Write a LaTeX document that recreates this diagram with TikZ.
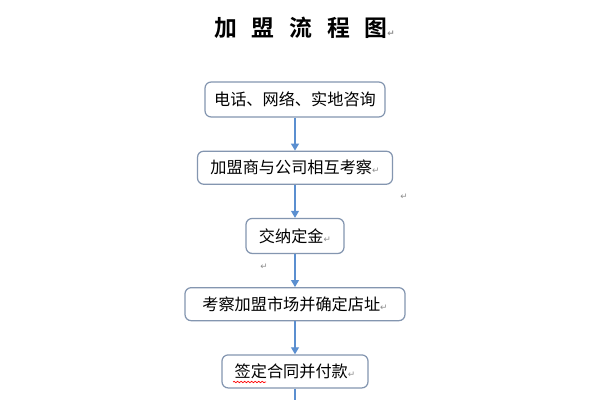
\documentclass[tikz,border=0pt]{standalone}
\usepackage{fontspec}
\newfontfamily\cjk[BoldFont={Noto Sans CJK SC Bold}]{Noto Sans CJK SC}
\newfontfamily\markfont{DejaVu Sans}
\usetikzlibrary{arrows.meta, positioning, decorations.pathmorphing}
\definecolor{boxline}{HTML}{8496B0}
\definecolor{arrowblue}{HTML}{5B8FD0}
\newcommand{\retmark}{{\markfont\fontsize{5}{5}\selectfont\textcolor{black!45}{↵}}}

\begin{document}
\begin{tikzpicture}[node distance=0.66cm,
    block/.style={rectangle, draw=boxline, line width=0.7pt, rounded corners=3.5pt, minimum height=0.66cm, inner xsep=0pt, text centered, font=\cjk\fontsize{9.2}{10}\selectfont},
    arrow/.style={draw=arrowblue, line width=0.8pt, -{Triangle[width=4.5pt,length=4pt]}}]
    \useasboundingbox[fill=white] (0,0) rectangle (12,-8);
    \node [anchor=west, font=\cjk\bfseries\fontsize{13}{14}\selectfont] (title) at (4.16,-0.56) {加\hspace{8.4pt}盟\hspace{8.4pt}流\hspace{8.4pt}程\hspace{8.4pt}图\retmark};
    \node [block, minimum width=3.6cm, minimum height=0.7cm] (consult) at (5.9,-1.99) {电话、网络、实地咨询};
    \node [block, below=of consult, minimum width=3.9cm] (inspect) {加盟商与公司相互考察\retmark};
    \node [block, below=of inspect, minimum width=1.96cm, minimum height=0.7cm] (deposit) {交纳定金\retmark};
    \node [block, below=of deposit, minimum width=4.4cm] (site) {考察加盟市场并确定店址\retmark};
    \node [block, below=of site, minimum width=2.92cm] (sign) {签定合同并付款\retmark};
    % stray paragraph marks
    \node (markA) at (8.08,-3.94) {\retmark};
    \node (markB) at (5.28,-5.34) {\retmark};
    \coordinate (tail) at (sign.south |- 0,-8);
    \draw [arrow] (consult) -- (inspect);
    \draw [arrow] (inspect) -- (deposit);
    \draw [arrow] (deposit) -- (site);
    \draw [arrow] (site) -- (sign);
    \draw [draw=arrowblue, line width=0.8pt] (sign) -- (tail);
    \draw [red, decorate, decoration={snake, amplitude=0.4pt, segment length=2pt}] (4.66,-7.64) -- (5.32,-7.64);
\end{tikzpicture}
\end{document}
